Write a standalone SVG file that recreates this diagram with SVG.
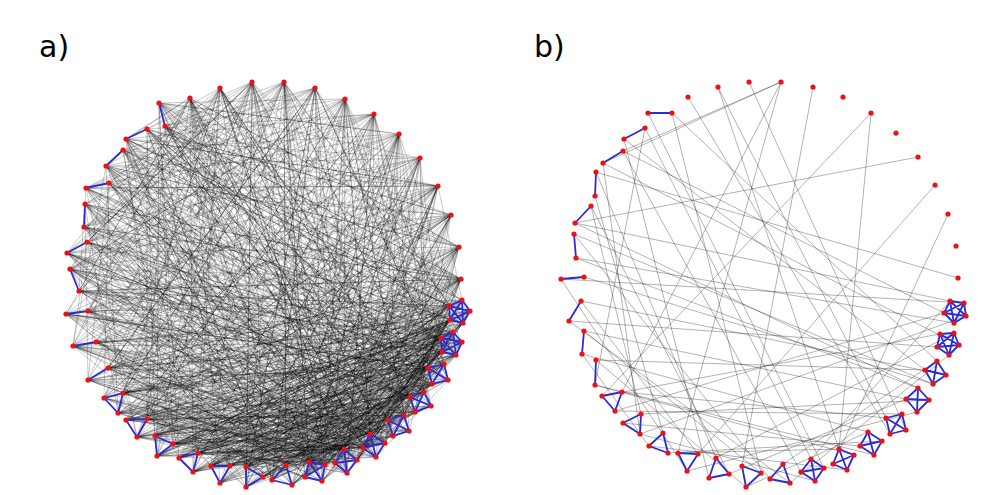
<svg xmlns="http://www.w3.org/2000/svg" width="993" height="495" viewBox="0 0 993 495">
<style>
.e{fill:none;stroke:#000;stroke-opacity:.27;stroke-width:.8;stroke-linejoin:round}
.g{fill:none;stroke:#000;stroke-opacity:.38;stroke-width:.8}
.b{fill:none;stroke:#2a2ad8;stroke-width:1.8;stroke-linejoin:round}
circle{fill:#f20f0f}
text{font-family:"DejaVu Sans",sans-serif;font-size:30px;fill:#000}
</style>
<rect width="993" height="495" fill="#fff"/>
<text x="39" y="57">a)</text>
<text x="534" y="57">b)</text>
<g id="connectors-a">
<polyline class="e" points="284,82 322,481 109,183 456,355 198,453 438,186 96,342 385,443 220,88 424,392 157,456"/>
<polyline class="e" points="461,279 137,437 345,99 272,480 147,129 404,415 79,291 449,306 179,458 399,134 357,460"/>
<polyline class="e" points="159,103 448,380 246,487 252,82 393,436 108,368 470,311 155,436 451,215 309,462 85,204"/>
<polyline class="e" points="190,98 363,448 66,314 442,352 292,485 374,114 126,420 415,412 123,150 325,465 463,323"/>
<polyline class="e" points="420,158 220,483 428,368 67,253 347,473 462,342 123,393 315,88 370,434 73,346 462,300"/>
<polyline class="e" points="165,126 410,397 173,444 459,247 305,477 86,188 441,338 211,466 344,449 70,269 432,384"/>
<polyline class="e" points="450,320 246,467 126,139 388,420 118,413 431,406 193,472 453,332 84,227 335,463 147,419"/>
<polyline class="e" points="444,364 87,242 376,457 230,466 106,166 286,465 409,431 88,380 438,186 263,477 456,355"/>
<polyline class="e" points="104,398 470,311 347,473 252,82 415,412 88,311 286,465 461,279 198,453 385,443 147,129"/>
<polyline class="e" points="453,332 211,466 424,392 159,103 309,462 96,342 441,338 173,444 404,415 345,99 322,481"/>
<polyline class="e" points="109,183 393,436 462,300 193,472 448,380 137,437 344,449 399,134 428,368 66,314 272,480"/>
<polyline class="e" points="220,88 335,463 462,342 108,368 370,434 106,166 463,323 220,483 410,397 67,253 325,465"/>
<polyline class="e" points="126,420 451,215 292,485 432,384 165,126 376,457 449,306 73,346 246,487 431,406 284,82"/>
<polyline class="e" points="357,460 79,291 442,352 179,458 459,247 409,431 85,204 305,477 450,320 157,456 388,420"/>
<polyline class="e" points="86,188 444,364 155,436 363,448 190,98 246,467 470,311 123,393 309,462 374,114 431,406"/>
<polyline class="e" points="230,466 462,342 70,269 385,443 147,419 461,279 347,473 126,139 428,368 118,413 286,465"/>
<polyline class="e" points="438,186 325,465 88,380 415,412 263,477 449,306 123,150 344,449 198,453 448,380 315,88"/>
<polyline class="e" points="88,311 370,434 463,323 292,485 84,227 404,415 126,420 456,355 305,477 420,158 179,458"/>
<polyline class="e" points="424,392 137,437 335,463 159,103 462,300 211,466 376,457 87,242 441,338 246,467 393,436"/>
<polyline class="e" points="459,247 193,472 410,397 106,166 322,481 432,384 118,413 453,332 357,460 104,398 252,82"/>
<polyline class="e" points="73,346 309,462 442,352 173,444 388,420 399,134 272,480 450,320 109,183 363,448 220,483"/>
<polyline class="e" points="428,368 147,129 385,443 470,311 246,487 444,364 96,342 325,465 284,82 409,431 147,419"/>
<polyline class="e" points="286,465 451,215 344,449 79,291 462,342 155,436 431,406 165,126 322,481 108,368 448,380"/>
<polyline class="e" points="198,453 463,323 85,204 347,473 220,88 404,415 211,466 456,355 70,269 370,434 292,485"/>
<polyline class="e" points="123,393 415,412 461,279 246,467 449,306 157,456 335,463 345,99 432,384 123,150 376,457"/>
<polyline class="e" points="393,436 67,253 441,338 305,477 438,186 104,398 357,460 470,311 179,458 424,392 126,139"/>
<polyline class="e" points="462,300 363,448 126,420 444,364 263,477 190,98 388,420 88,311 453,332 325,465 462,342"/>
<polyline class="e" points="87,242 410,397 230,466 450,320 88,380 309,462 459,247 385,443 86,188 442,352 193,472"/>
<polyline class="e" points="431,406 272,480 374,114 347,473 137,437 432,384 84,227 463,323 344,449 173,444 404,415"/>
<polyline class="e" points="322,481 159,103 456,355 198,453 370,434 420,158 286,465 66,314 428,368 211,466 470,311"/>
<polyline class="e" points="376,457 147,419 453,332 335,463 147,129 448,380 315,88 246,487 409,431 118,413 441,338"/>
<polyline class="e" points="449,306 220,483 309,462 67,253 415,412 451,215 357,460 96,342 450,320 292,485 442,352"/>
<polyline class="e" points="155,436 462,300 157,456 385,443 284,82 305,477 432,384 79,291 461,279 388,420 246,467"/>
<polyline class="e" points="106,166 424,392 325,465 108,368 462,342 179,458 410,397 220,88 347,473 463,323 104,398"/>
<polyline class="e" points="448,380 73,346 344,449 438,186 322,481 441,338 230,466 393,436 165,126 453,332 126,420"/>
<polyline class="e" points="263,477 431,406 70,269 357,460 456,355 137,437 450,320 286,465 399,134 376,457 109,183"/>
<polyline class="e" points="370,434 193,472 462,300 415,412 126,139 335,463 444,364 198,453 459,247 272,480 428,368"/>
<polyline class="e" points="123,393 442,352 325,465 345,99 404,415 220,483 449,306 88,311 363,448 470,311 173,444"/>
<polyline class="e" points="451,215 385,443 211,466 462,342 85,204 309,462 432,384 147,419 305,477 252,82 410,397"/>
<polyline class="e" points="292,485 123,150 388,420 463,323 88,380 347,473 441,338 155,436 424,392 420,158 246,487"/>
<polyline class="e" points="344,449 157,456 453,332 190,98 322,481 456,355 123,393 461,279 393,436 87,242 448,380"/>
<polyline class="e" points="179,458 470,311 376,457 165,126 431,406 230,466 442,352 104,398 335,463 315,88 449,306"/>
<polyline class="e" points="73,346 409,431 246,467 428,368 173,444 450,320 325,465 86,188 462,342 357,460 462,300"/>
<polyline class="e" points="432,384 193,472 370,434 66,314 444,364 286,465 284,82 363,448 126,420 415,412 147,129"/>
<polyline class="e" points="456,355 246,487 459,247 118,413 309,462 410,397 84,227 385,443 198,453 441,338 322,481"/>
<polyline class="e" points="463,323 272,480 404,415 159,103 449,306 137,437 424,392 374,114 347,473 96,342 453,332"/>
<polyline class="e" points="147,419 448,380 211,466 461,279 344,449 67,253 431,406 220,483 450,320 388,420 220,88"/>
<polyline class="e" points="305,477 442,352 70,269 376,457 438,186 335,463 108,368 432,384 246,467 462,342 106,166"/>
<polyline class="e" points="409,431 173,444 470,311 198,453 325,465 109,183 444,364 345,99 370,434 118,413 462,300"/>
<polyline class="e" points="441,338 357,460 85,204 428,368 292,485 451,215 126,420 404,415 456,355 193,472 385,443"/>
<polyline class="e" points="230,466 449,306 126,139 322,481 415,412 73,346 363,448 157,456 463,323 284,82 309,462"/>
<polyline class="e" points="424,392 263,477 393,436 462,342 123,393 376,457 315,88 272,480 448,380 79,291 461,279"/>
<polyline class="e" points="108,368 347,473 450,320 123,150 370,434 179,458 442,352 399,134 305,477 147,419 431,406"/>
<polyline class="e" points="453,332 286,465 444,364 155,436 344,449 190,98 410,397 88,311 325,465 470,311 211,466"/>
<polyline class="e" points="157,456 432,384 165,126 357,460 459,247 220,483 456,355 87,242 388,420 246,467 335,463"/>
<polyline class="e" points="462,300 104,398 385,443 420,158 292,485 415,412 147,129 462,342 198,453 363,448 450,320"/>
<polyline class="e" points="84,227 441,338 309,462 252,82 246,487 449,306 88,380 428,368 322,481 137,437 404,415"/>
<polyline class="e" points="376,457 96,342 470,311 347,473 173,444 448,380 374,114 370,434 86,188 431,406 272,480"/>
<polyline class="e" points="459,247 344,449 126,420 442,352 263,477 453,332 70,269 393,436 193,472 444,364 159,103"/>
<polyline class="e" points="325,465 451,215 305,477 118,413 410,397 230,466 463,323 85,204 385,443 220,88 424,392"/>
<polyline class="e" points="456,355 147,419 357,460 126,139 462,300 292,485 428,368 66,314 335,463 438,186 155,436"/>
<polyline class="e" points="388,420 179,458 449,306 79,291 363,448 461,279 108,368 441,338 246,487 415,412 286,465"/>
<polyline class="e" points="137,437 450,320 322,481 106,166 409,431 399,134 246,467 462,342 73,346 432,384 220,483"/>
<polyline class="e" points="347,473 284,82 431,406 157,456 470,311 109,183 376,457 448,380 198,453 325,465 442,352"/>
<polyline class="e" points="193,472 453,332 123,393 370,434 190,98 309,462 444,364 67,253 404,415 459,247 211,466"/>
<polyline class="e" points="428,368 88,380 344,449 345,99 286,465 463,323 126,420 456,355 165,126 393,436 173,444"/>
<polyline class="e" points="335,463 461,279 70,269 431,406 230,466 385,443 438,186 305,477 104,398 449,306 123,150"/>
<polyline class="e" points="441,338 179,458 410,397 147,129 272,480 462,300 363,448 73,346 424,392 322,481 315,88"/>
<polyline class="e" points="118,413 462,342 263,477 432,384 84,227 357,460 450,320 155,436 409,431 252,82 470,311"/>
<polyline class="e" points="404,415 88,311 370,434 173,444 444,364 292,485 420,158 309,462 137,437 376,457 106,166"/>
<polyline class="e" points="190,98 459,247 147,129 374,114 87,242 252,82 88,311 438,186 165,126 315,88 108,368"/>
<polyline class="e" points="284,82 86,188 451,215 104,398 220,88 70,269 420,158 126,139 461,279 96,342 345,99"/>
<polyline class="e" points="159,103 399,134 84,227 284,82 126,420 459,247 190,98 73,346 374,114 106,166 252,82"/>
<polyline class="e" points="315,88 79,291 438,186 123,150 461,279 118,413 220,88 66,314 451,215 109,183 399,134"/>
<polyline class="e" points="345,99 137,437 252,82 67,253 459,247 159,103 420,158 88,380 284,82 85,204 461,279"/>
<polyline class="e" points="374,114 126,139 190,98 88,311 451,215 155,436 315,88 86,188 438,186 123,393 220,88"/>
<polyline class="e" points="399,134 70,269 345,99 165,126 461,279 157,456 252,82 87,242 420,158 147,419 190,98"/>
<polyline class="e" points="420,158 106,166 459,247 108,368 315,88 84,227 374,114 173,444 220,88 147,129 451,215"/>
<polyline class="e" points="438,186 67,253 284,82 104,398 399,134 159,103 461,279 66,314 345,99 179,458 459,247"/>
<polyline class="e" points="451,215 96,342 252,82 109,183 374,114 126,420 438,186 126,139 190,98 79,291 284,82"/>
<polyline class="e" points="459,247 123,150 399,134 73,346 220,88 198,453 461,279 85,204 315,88 137,437 420,158"/>
<polyline class="e" points="461,279 165,126 284,82 118,413 438,186 86,188 345,99 70,269 190,98 193,472 374,114"/>
<polyline class="e" points="220,88 88,380 451,215 147,129 252,82 211,466 399,134 88,311 459,247 106,166 438,186"/>
<polyline class="e" points="252,82 123,393 420,158 84,227 461,279 220,483 345,99 159,103 451,215 108,368 315,88"/>
<polyline class="e" points="147,129 246,467 87,242 286,465 86,188 246,487 96,342 272,480 126,139 263,477 66,314"/>
<polyline class="e" points="165,126 230,466 85,204 292,485 104,398 309,462 123,150 322,481 73,346 344,449 109,183"/>
<polyline class="e" points="159,103 179,458 70,269 347,473 106,166 376,457 88,380 410,397 67,253 432,384 126,420"/>
<polyline class="e" points="190,98 286,465 284,82 246,467 374,114 211,466 438,186 179,458 461,279 155,436 252,82"/>
<polyline class="e" points="220,88 272,480 315,88 246,487 399,134 220,483 451,215 193,472 220,88 157,456 345,99"/>
<polyline class="e" points="84,227 449,306 126,139 462,300 88,311 442,352 123,393 428,368 86,188 415,412 137,437"/>
<polyline class="e" points="108,368 470,311 165,126 450,320 87,242 456,355 147,129 448,380 85,204 393,436 96,342"/>
<polyline class="e" points="126,420 453,332 79,291 441,338 106,166 424,392 66,314 388,420 159,103 385,443 109,183"/>
<polyline class="e" points="284,82 456,355 220,88 431,406 345,99 370,434 190,98 347,473 315,88 444,364 420,158"/>
<polyline class="e" points="459,247 344,449 252,82 325,465 374,114 404,415 461,279 305,477 399,134 363,448 451,215"/>
<polyline class="e" points="155,436 147,129 147,419 165,126 198,453 126,139 157,456 159,103 173,444 123,150 179,458"/>
<polyline class="e" points="104,398 109,183 88,380 85,204 118,413 106,166 73,346 87,242 137,437 86,188 79,291"/>
<polyline class="e" points="292,485 67,253 263,477 70,269 230,466 84,227 286,465 88,311 211,466 108,368 246,467"/>
<polyline class="e" points="315,88 462,300 438,186 309,462 284,82 463,323 399,134 272,480 190,98 462,342 345,99"/>
<polyline class="e" points="374,114 441,338 252,82 357,460 420,158 428,368 459,247 335,463 220,88 410,397 461,279"/>
<polyline class="e" points="123,150 315,88 123,393 459,247 96,342 284,82 147,419 451,215 70,269 374,114 193,472"/>
<polyline class="e" points="126,139 438,186 173,444 345,99 84,227 461,279 108,368 252,82 87,242 399,134 211,466"/>
<polyline class="e" points="109,183 220,88 88,311 420,158 220,483 190,98 67,253 451,215 137,437 284,82 198,453"/>
<polyline class="e" points="106,166 461,279 157,456 315,88 73,346 438,186 118,413 252,82 263,477 459,247 126,420"/>
<polyline class="e" points="85,204 374,114 155,436 399,134 104,398 345,99 246,487 420,158 66,314 190,98 230,466"/>
</g>
<g id="connectors-b">
<path class="g" d="M781 82L623 151M781 82L603 163M781 82L622 392M781 82L678 453M813 87L742 466M718 87L839 449M718 87L886 418M749 82L906 430M688 97L890 434M672 113L937 361M672 113L761 473M871 113L602 396M871 113L839 449M918 157L575 223M935 185L698 454M948 214L833 464M958 278L596 172M569 321L937 347M575 223L950 301M575 223L918 388M623 151L944 313M645 128L595 385M624 139L709 478M591 206L641 414M603 163L959 345M574 234L770 479M576 258L954 323M561 279L964 303M584 277L933 384M581 301L946 375M584 331L906 399M582 354L868 432M596 360L925 370M595 385L874 455M602 396L940 334M622 392L886 418M615 411L902 414M623 423L860 446M641 414L929 400M640 434L815 481M649 446L847 470M668 453L882 441M678 453L839 449M687 471L917 412M716 458L954 333M729 474L906 399M746 487L868 432M790 483L949 355M783 464L937 361M811 459L950 301M595 196L663 433M591 206L729 474M596 172L716 458M645 128L811 459M648 113L824 468M623 151L801 472M569 321L790 483M581 301L698 454M584 331L761 473M582 354L649 446M596 360L746 487M595 385L854 455M561 279L687 471M574 234L933 384M576 258L918 388M615 411L944 313M640 434L966 316M603 163L640 434M624 139L925 370"/>
</g>
<g id="intra-a">
<path class="b" d="M159 103L165 126M147 129L126 139M123 150L106 166M109 183L86 188M85 204L84 227M87 242L67 253M70 269L79 291M88 311L66 314M96 342L73 346M108 368L88 380"/>
<path class="b" d="M104 398L123 393L118 413ZM126 420L147 419L137 437ZM155 436L173 444L157 456ZM179 458L198 453L193 472ZM211 466L230 466L220 483ZM246 467L263 477L246 487ZM286 465L292 485L272 480Z"/>
<path class="b" d="M309 462L325 465L322 481L305 477ZM309 462L322 481M325 465L305 477M344 449L357 460L347 473L335 463ZM344 449L347 473M357 460L335 463M370 434L385 443L376 457L363 448ZM370 434L376 457M385 443L363 448M404 415L409 431L393 436L388 420ZM404 415L393 436M409 431L388 420M424 392L431 406L415 412L410 397ZM424 392L415 412M431 406L410 397M444 364L448 380L432 384L428 368ZM444 364L432 384M448 380L428 368"/>
<path class="b" d="M453 332L462 342L456 355L442 352L441 338ZM453 332L456 355L441 338L462 342L442 352ZM462 300L470 311L463 323L450 320L449 306ZM462 300L463 323L449 306L470 311L450 320Z"/>
</g>
<g id="intra-b">
<path class="b" d="M648 113L672 113M645 128L624 139M623 151L603 163M596 172L595 196M591 206L575 223M574 234L576 258M584 277L561 279M581 301L569 321M584 331L582 354M596 360L595 385"/>
<path class="b" d="M602 396L622 392L615 411ZM623 423L641 414L640 434ZM663 433L649 446L668 453ZM678 453L698 454L687 471ZM716 458L709 478L729 474ZM742 466L761 473L746 487ZM783 464L770 479L790 483Z"/>
<path class="b" d="M811 459L801 472L815 481L824 468ZM811 459L815 481M801 472L824 468M839 449L833 464L847 470L854 455ZM839 449L847 470M833 464L854 455M868 432L860 446L874 455L882 441ZM868 432L874 455M860 446L882 441M902 414L886 418L890 434L906 430ZM902 414L890 434M886 418L906 430M918 388L906 399L917 412L929 400ZM918 388L917 412M906 399L929 400M937 361L925 370L933 384L946 375ZM937 361L933 384M925 370L946 375"/>
<path class="b" d="M940 334L954 333L959 345L949 355L937 347ZM940 334L959 345L937 347L954 333L949 355ZM950 301L964 303L966 316L954 323L944 313ZM950 301L966 316L944 313L964 303L954 323Z"/>
</g>
<g id="nodes-a">
<g id="a0"><circle cx="190" cy="98" r="2.6"/></g>
<g id="a1"><circle cx="220" cy="88" r="2.6"/></g>
<g id="a2"><circle cx="252" cy="82" r="2.6"/></g>
<g id="a3"><circle cx="284" cy="82" r="2.6"/></g>
<g id="a4"><circle cx="315" cy="88" r="2.6"/></g>
<g id="a5"><circle cx="345" cy="99" r="2.6"/></g>
<g id="a6"><circle cx="374" cy="114" r="2.6"/></g>
<g id="a7"><circle cx="399" cy="134" r="2.6"/></g>
<g id="a8"><circle cx="420" cy="158" r="2.6"/></g>
<g id="a9"><circle cx="438" cy="186" r="2.6"/></g>
<g id="a10"><circle cx="451" cy="215" r="2.6"/></g>
<g id="a11"><circle cx="459" cy="247" r="2.6"/></g>
<g id="a12"><circle cx="461" cy="279" r="2.6"/></g>
<g id="a13"><circle cx="462" cy="300" r="2.6"/></g>
<g id="a14"><circle cx="470" cy="311" r="2.6"/></g>
<g id="a15"><circle cx="463" cy="323" r="2.6"/></g>
<g id="a16"><circle cx="450" cy="320" r="2.6"/></g>
<g id="a17"><circle cx="449" cy="306" r="2.6"/></g>
<g id="a18"><circle cx="453" cy="332" r="2.6"/></g>
<g id="a19"><circle cx="462" cy="342" r="2.6"/></g>
<g id="a20"><circle cx="456" cy="355" r="2.6"/></g>
<g id="a21"><circle cx="442" cy="352" r="2.6"/></g>
<g id="a22"><circle cx="441" cy="338" r="2.6"/></g>
<g id="a23"><circle cx="444" cy="364" r="2.6"/></g>
<g id="a24"><circle cx="448" cy="380" r="2.6"/></g>
<g id="a25"><circle cx="432" cy="384" r="2.6"/></g>
<g id="a26"><circle cx="428" cy="368" r="2.6"/></g>
<g id="a27"><circle cx="424" cy="392" r="2.6"/></g>
<g id="a28"><circle cx="431" cy="406" r="2.6"/></g>
<g id="a29"><circle cx="415" cy="412" r="2.6"/></g>
<g id="a30"><circle cx="410" cy="397" r="2.6"/></g>
<g id="a31"><circle cx="404" cy="415" r="2.6"/></g>
<g id="a32"><circle cx="409" cy="431" r="2.6"/></g>
<g id="a33"><circle cx="393" cy="436" r="2.6"/></g>
<g id="a34"><circle cx="388" cy="420" r="2.6"/></g>
<g id="a35"><circle cx="370" cy="434" r="2.6"/></g>
<g id="a36"><circle cx="385" cy="443" r="2.6"/></g>
<g id="a37"><circle cx="376" cy="457" r="2.6"/></g>
<g id="a38"><circle cx="363" cy="448" r="2.6"/></g>
<g id="a39"><circle cx="344" cy="449" r="2.6"/></g>
<g id="a40"><circle cx="357" cy="460" r="2.6"/></g>
<g id="a41"><circle cx="347" cy="473" r="2.6"/></g>
<g id="a42"><circle cx="335" cy="463" r="2.6"/></g>
<g id="a43"><circle cx="309" cy="462" r="2.6"/></g>
<g id="a44"><circle cx="325" cy="465" r="2.6"/></g>
<g id="a45"><circle cx="322" cy="481" r="2.6"/></g>
<g id="a46"><circle cx="305" cy="477" r="2.6"/></g>
<g id="a47"><circle cx="286" cy="465" r="2.6"/></g>
<g id="a48"><circle cx="292" cy="485" r="2.6"/></g>
<g id="a49"><circle cx="272" cy="480" r="2.6"/></g>
<g id="a50"><circle cx="246" cy="467" r="2.6"/></g>
<g id="a51"><circle cx="263" cy="477" r="2.6"/></g>
<g id="a52"><circle cx="246" cy="487" r="2.6"/></g>
<g id="a53"><circle cx="211" cy="466" r="2.6"/></g>
<g id="a54"><circle cx="230" cy="466" r="2.6"/></g>
<g id="a55"><circle cx="220" cy="483" r="2.6"/></g>
<g id="a56"><circle cx="179" cy="458" r="2.6"/></g>
<g id="a57"><circle cx="198" cy="453" r="2.6"/></g>
<g id="a58"><circle cx="193" cy="472" r="2.6"/></g>
<g id="a59"><circle cx="155" cy="436" r="2.6"/></g>
<g id="a60"><circle cx="173" cy="444" r="2.6"/></g>
<g id="a61"><circle cx="157" cy="456" r="2.6"/></g>
<g id="a62"><circle cx="126" cy="420" r="2.6"/></g>
<g id="a63"><circle cx="147" cy="419" r="2.6"/></g>
<g id="a64"><circle cx="137" cy="437" r="2.6"/></g>
<g id="a65"><circle cx="104" cy="398" r="2.6"/></g>
<g id="a66"><circle cx="123" cy="393" r="2.6"/></g>
<g id="a67"><circle cx="118" cy="413" r="2.6"/></g>
<g id="a68"><circle cx="108" cy="368" r="2.6"/></g>
<g id="a69"><circle cx="88" cy="380" r="2.6"/></g>
<g id="a70"><circle cx="96" cy="342" r="2.6"/></g>
<g id="a71"><circle cx="73" cy="346" r="2.6"/></g>
<g id="a72"><circle cx="88" cy="311" r="2.6"/></g>
<g id="a73"><circle cx="66" cy="314" r="2.6"/></g>
<g id="a74"><circle cx="70" cy="269" r="2.6"/></g>
<g id="a75"><circle cx="79" cy="291" r="2.6"/></g>
<g id="a76"><circle cx="87" cy="242" r="2.6"/></g>
<g id="a77"><circle cx="67" cy="253" r="2.6"/></g>
<g id="a78"><circle cx="85" cy="204" r="2.6"/></g>
<g id="a79"><circle cx="84" cy="227" r="2.6"/></g>
<g id="a80"><circle cx="109" cy="183" r="2.6"/></g>
<g id="a81"><circle cx="86" cy="188" r="2.6"/></g>
<g id="a82"><circle cx="123" cy="150" r="2.6"/></g>
<g id="a83"><circle cx="106" cy="166" r="2.6"/></g>
<g id="a84"><circle cx="147" cy="129" r="2.6"/></g>
<g id="a85"><circle cx="126" cy="139" r="2.6"/></g>
<g id="a86"><circle cx="159" cy="103" r="2.6"/></g>
<g id="a87"><circle cx="165" cy="126" r="2.6"/></g>
</g>
<g id="nodes-b">
<g id="b0"><circle cx="688" cy="97" r="2.6"/></g>
<g id="b1"><circle cx="718" cy="87" r="2.6"/></g>
<g id="b2"><circle cx="749" cy="82" r="2.6"/></g>
<g id="b3"><circle cx="781" cy="82" r="2.6"/></g>
<g id="b4"><circle cx="813" cy="87" r="2.6"/></g>
<g id="b5"><circle cx="843" cy="97" r="2.6"/></g>
<g id="b6"><circle cx="871" cy="113" r="2.6"/></g>
<g id="b7"><circle cx="896" cy="133" r="2.6"/></g>
<g id="b8"><circle cx="918" cy="157" r="2.6"/></g>
<g id="b9"><circle cx="935" cy="185" r="2.6"/></g>
<g id="b10"><circle cx="948" cy="214" r="2.6"/></g>
<g id="b11"><circle cx="956" cy="246" r="2.6"/></g>
<g id="b12"><circle cx="958" cy="278" r="2.6"/></g>
<g id="b13"><circle cx="950" cy="301" r="2.6"/></g>
<g id="b14"><circle cx="964" cy="303" r="2.6"/></g>
<g id="b15"><circle cx="966" cy="316" r="2.6"/></g>
<g id="b16"><circle cx="954" cy="323" r="2.6"/></g>
<g id="b17"><circle cx="944" cy="313" r="2.6"/></g>
<g id="b18"><circle cx="940" cy="334" r="2.6"/></g>
<g id="b19"><circle cx="954" cy="333" r="2.6"/></g>
<g id="b20"><circle cx="959" cy="345" r="2.6"/></g>
<g id="b21"><circle cx="949" cy="355" r="2.6"/></g>
<g id="b22"><circle cx="937" cy="347" r="2.6"/></g>
<g id="b23"><circle cx="937" cy="361" r="2.6"/></g>
<g id="b24"><circle cx="925" cy="370" r="2.6"/></g>
<g id="b25"><circle cx="933" cy="384" r="2.6"/></g>
<g id="b26"><circle cx="946" cy="375" r="2.6"/></g>
<g id="b27"><circle cx="918" cy="388" r="2.6"/></g>
<g id="b28"><circle cx="906" cy="399" r="2.6"/></g>
<g id="b29"><circle cx="917" cy="412" r="2.6"/></g>
<g id="b30"><circle cx="929" cy="400" r="2.6"/></g>
<g id="b31"><circle cx="902" cy="414" r="2.6"/></g>
<g id="b32"><circle cx="886" cy="418" r="2.6"/></g>
<g id="b33"><circle cx="890" cy="434" r="2.6"/></g>
<g id="b34"><circle cx="906" cy="430" r="2.6"/></g>
<g id="b35"><circle cx="868" cy="432" r="2.6"/></g>
<g id="b36"><circle cx="860" cy="446" r="2.6"/></g>
<g id="b37"><circle cx="874" cy="455" r="2.6"/></g>
<g id="b38"><circle cx="882" cy="441" r="2.6"/></g>
<g id="b39"><circle cx="839" cy="449" r="2.6"/></g>
<g id="b40"><circle cx="833" cy="464" r="2.6"/></g>
<g id="b41"><circle cx="847" cy="470" r="2.6"/></g>
<g id="b42"><circle cx="854" cy="455" r="2.6"/></g>
<g id="b43"><circle cx="811" cy="459" r="2.6"/></g>
<g id="b44"><circle cx="801" cy="472" r="2.6"/></g>
<g id="b45"><circle cx="815" cy="481" r="2.6"/></g>
<g id="b46"><circle cx="824" cy="468" r="2.6"/></g>
<g id="b47"><circle cx="783" cy="464" r="2.6"/></g>
<g id="b48"><circle cx="770" cy="479" r="2.6"/></g>
<g id="b49"><circle cx="790" cy="483" r="2.6"/></g>
<g id="b50"><circle cx="742" cy="466" r="2.6"/></g>
<g id="b51"><circle cx="761" cy="473" r="2.6"/></g>
<g id="b52"><circle cx="746" cy="487" r="2.6"/></g>
<g id="b53"><circle cx="716" cy="458" r="2.6"/></g>
<g id="b54"><circle cx="709" cy="478" r="2.6"/></g>
<g id="b55"><circle cx="729" cy="474" r="2.6"/></g>
<g id="b56"><circle cx="678" cy="453" r="2.6"/></g>
<g id="b57"><circle cx="698" cy="454" r="2.6"/></g>
<g id="b58"><circle cx="687" cy="471" r="2.6"/></g>
<g id="b59"><circle cx="663" cy="433" r="2.6"/></g>
<g id="b60"><circle cx="649" cy="446" r="2.6"/></g>
<g id="b61"><circle cx="668" cy="453" r="2.6"/></g>
<g id="b62"><circle cx="623" cy="423" r="2.6"/></g>
<g id="b63"><circle cx="641" cy="414" r="2.6"/></g>
<g id="b64"><circle cx="640" cy="434" r="2.6"/></g>
<g id="b65"><circle cx="602" cy="396" r="2.6"/></g>
<g id="b66"><circle cx="622" cy="392" r="2.6"/></g>
<g id="b67"><circle cx="615" cy="411" r="2.6"/></g>
<g id="b68"><circle cx="596" cy="360" r="2.6"/></g>
<g id="b69"><circle cx="595" cy="385" r="2.6"/></g>
<g id="b70"><circle cx="584" cy="331" r="2.6"/></g>
<g id="b71"><circle cx="582" cy="354" r="2.6"/></g>
<g id="b72"><circle cx="581" cy="301" r="2.6"/></g>
<g id="b73"><circle cx="569" cy="321" r="2.6"/></g>
<g id="b74"><circle cx="584" cy="277" r="2.6"/></g>
<g id="b75"><circle cx="561" cy="279" r="2.6"/></g>
<g id="b76"><circle cx="574" cy="234" r="2.6"/></g>
<g id="b77"><circle cx="576" cy="258" r="2.6"/></g>
<g id="b78"><circle cx="591" cy="206" r="2.6"/></g>
<g id="b79"><circle cx="575" cy="223" r="2.6"/></g>
<g id="b80"><circle cx="596" cy="172" r="2.6"/></g>
<g id="b81"><circle cx="595" cy="196" r="2.6"/></g>
<g id="b82"><circle cx="623" cy="151" r="2.6"/></g>
<g id="b83"><circle cx="603" cy="163" r="2.6"/></g>
<g id="b84"><circle cx="645" cy="128" r="2.6"/></g>
<g id="b85"><circle cx="624" cy="139" r="2.6"/></g>
<g id="b86"><circle cx="648" cy="113" r="2.6"/></g>
<g id="b87"><circle cx="672" cy="113" r="2.6"/></g>
</g>
</svg>
